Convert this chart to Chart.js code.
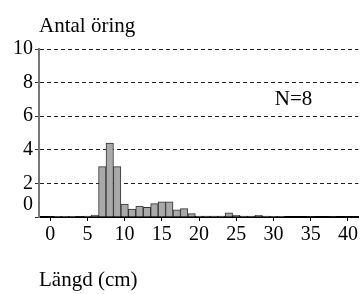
<!DOCTYPE html>
<html>
<head>
<meta charset="utf-8">
<script src="https://cdn.jsdelivr.net/npm/chart.js@4/dist/chart.umd.min.js"></script>
<style>
  html, body { margin: 0; padding: 0; background: #fff; }
  #wrap { width: 360px; height: 294px; position: relative; }
</style>
</head>
<body>
<div id="wrap"><canvas id="c"></canvas></div>
<script>
// Data
const lengths = [0,1,2,3,4,5,6,7,8,9,10,11,12,13,14,15,16,17,18,19,20,21,22,23,24,25,26,27,28,29,30,31,32,33,34,35,36,37,38,39,40];
const counts  = [0,0.02,0.02,0.02,0.03,0.05,0.12,3.0,4.4,3.0,0.77,0.47,0.65,0.58,0.8,0.9,0.9,0.42,0.5,0.2,0.05,0.05,0.05,0.05,0.25,0.1,0.05,0.05,0.1,0.05,0.04,0.04,0,0,0,0.03,0,0,0.03,0,0];
const xTicks = [0,5,10,15,20,25,30,35,40];
const yTicks = [0,2,4,6,8,10];
const yTitle = 'Antal öring';
const xTitle = 'Längd (cm)';
const note = 'N=8';

const FONT = 'Liberation Serif';
Chart.defaults.font.family = FONT;

const textPlugin = {
  id: 'texts',
  afterDraw(chart) {
    const ctx = chart.ctx;
    const xs = chart.scales.x, ys = chart.scales.y;
    ctx.save();
    ctx.fillStyle = '#000';
    ctx.font = '21px "Liberation Serif"';
    ctx.textAlign = 'left';
    ctx.textBaseline = 'alphabetic';
    ctx.fillText(yTitle, chart.chartArea.left, 32);
    ctx.textAlign = 'center';
    ctx.textBaseline = 'middle';
    ctx.fillText(note, xs.getPixelForValue(32.7), ys.getPixelForValue(7.0));
    ctx.restore();
  }
};

new Chart(document.getElementById('c'), {
  type: 'bar',
  data: {
    datasets: [{
      data: lengths.map((l, i) => ({x: l, y: counts[i]})),
      backgroundColor: '#a9a9a9',
      borderColor: '#333',
      borderWidth: 1,
      barPercentage: 1,
      categoryPercentage: 1
    }]
  },
  options: {
    responsive: true,
    maintainAspectRatio: false,
    animation: false,
    events: [],
    layout: { padding: { left: 0, right: 1, top: 49, bottom: 0 } },
    plugins: { legend: { display: false }, tooltip: { enabled: false } },
    scales: {
      x: {
        type: 'linear',
        offset: false,
        min: -1.5,
        max: 41.4,
        afterBuildTicks(s) { s.ticks = xTicks.map(v => ({value: v})); },
        afterFit(s) { s.height = 77; },
        grid: { offset: false, drawOnChartArea: false, drawTicks: true, tickLength: 4, tickColor: '#000', lineWidth: 1 },
        border: { display: true, color: '#000', width: 2 },
        ticks: { autoSkip: false, color: '#000', font: { family: FONT, size: 20 }, padding: 2, maxRotation: 0 },
        title: { display: true, text: xTitle, align: 'start', color: '#000', font: { family: FONT, size: 21 }, padding: { top: 0, bottom: 1 } }
      },
      y: {
        min: 0,
        max: 10,
        afterBuildTicks(s) { s.ticks = yTicks.map(v => ({value: v})); },
        afterFit(s) { s.width = 39; },
        grid: {
          drawTicks: true,
          tickLength: 4,
          tickColor: '#333',
          tickBorderDash: [],
          color: (c) => (c.tick && c.tick.value === 0) ? 'rgba(0,0,0,0)' : '#222',
          lineWidth: 1
        },
        border: { display: true, color: '#777', width: 2, dash: [4, 3] },
        ticks: {
          autoSkip: false,
          color: '#000',
          font: { family: FONT, size: 20 },
          padding: 2,
          callback: (v) => v === 0 ? ['0', ''] : String(v)
        }
      }
    }
  },
  plugins: [textPlugin]
});
</script>
</body>
</html>
